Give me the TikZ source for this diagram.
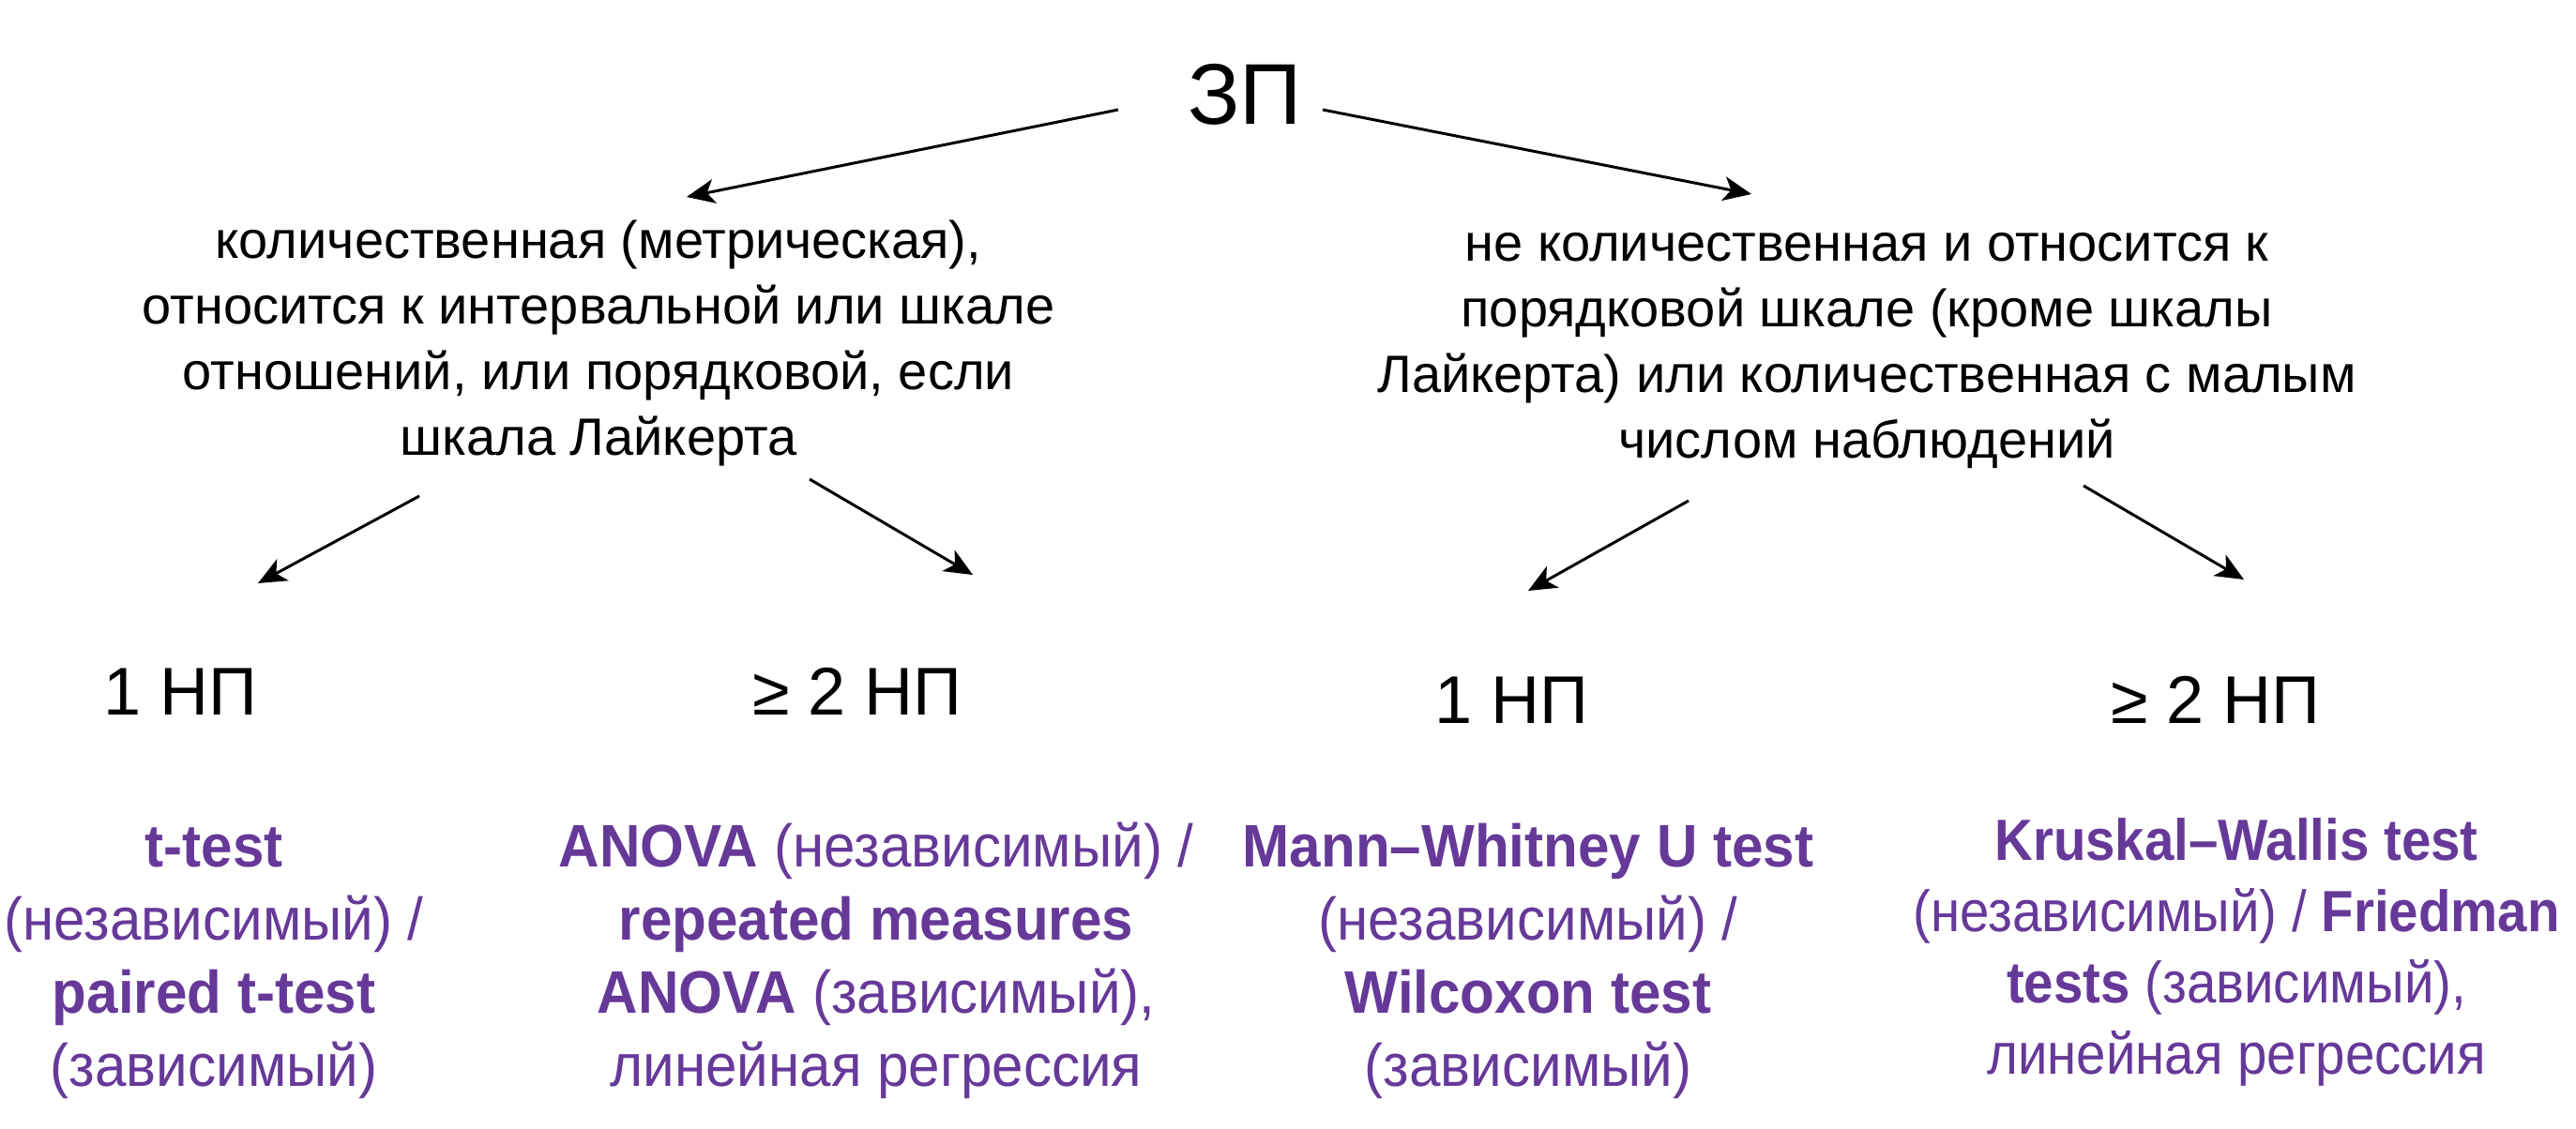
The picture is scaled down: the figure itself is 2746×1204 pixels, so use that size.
\documentclass[tikz,border=0pt]{standalone}
\usepackage{fontspec}
\setmainfont{Liberation Sans}
\newfontfamily\purpfont{Liberation Sans}[FakeStretch=0.94]
\newfontfamily\purpfontn{Liberation Sans}[FakeStretch=0.91]
\usetikzlibrary{arrows.meta}
\definecolor{purp}{RGB}{102,57,153}
\begin{document}
\begin{tikzpicture}[x=0.5pt,y=-0.5pt,
  every node/.style={inner sep=0pt, outer sep=0pt},
  title/.style={font=\fontsize{46}{52}\selectfont, anchor=base},
  crit/.style={font=\fontsize{28}{35}\selectfont, align=center, anchor=base},
  np/.style={font=\fontsize{36}{40}\selectfont, anchor=base},
  test/.style={font=\purpfont\fontsize{32}{39}\selectfont, text=purp, align=center, anchor=base},
  testn/.style={font=\purpfontn\fontsize{31}{38}\selectfont, text=purp, align=center, anchor=base},
  arr/.style={-{Stealth[length=15pt,width=13pt,inset=4pt]}, line width=1.5pt}]
\useasboundingbox (0,0) rectangle (2746,1204);

\node[title] (zp) at (1327,133) {ЗП};
\node[crit] (quant) at (638,485) {количественная (метрическая),\\ относится к интервальной или шкале\\ отношений, или порядковой, если\\ шкала Лайкерта};
\node[crit] (nonq) at (1990,488) {не количественная и относится к\\ порядковой шкале (кроме шкалы\\ Лайкерта) или количественная с малым\\ числом наблюдений};

\node[np] (np1) at (192,762) {1 НП};
\node[np] (np2) at (914,762) {≥ 2 НП};
\node[np] (np3) at (1611,771) {1 НП};
\node[np] (np4) at (2362,771) {≥ 2 НП};

\node[test] (t1) at (228,1158) {\textbf{t-test}\\ (независимый) /\\ \textbf{paired t-test}\\ (зависимый)};
\node[test] (t2) at (934,1158) {\textbf{ANOVA} (независимый) /\\ \textbf{repeated measures}\\ \textbf{ANOVA} (зависимый),\\ линейная регрессия};
\node[test] (t3) at (1629,1158) {\textbf{Mann–Whitney U test}\\ (независимый) /\\ \textbf{Wilcoxon test}\\ (зависимый)};
\node[testn] (t4) at (2384,1145) {\textbf{Kruskal–Wallis test}\\ (независимый) / \textbf{Friedman}\\ \textbf{tests} (зависимый),\\ линейная регрессия};

\coordinate (zpL) at (1192,117);
\coordinate (zpR) at (1410,117);
\coordinate (quantIn) at (732,210);
\coordinate (nonqIn) at (1867,207);
\coordinate (quantL) at (447,529);
\coordinate (quantR) at (863,511);
\coordinate (nonqL) at (1800,534);
\coordinate (nonqR) at (2221,518);
\coordinate (np1In) at (275,622);
\coordinate (np2In) at (1037,613);
\coordinate (np3In) at (1629,630);
\coordinate (np4In) at (2392,618);

\draw[arr] (zpL) -- (quantIn);
\draw[arr] (zpR) -- (nonqIn);
\draw[arr] (quantL) -- (np1In);
\draw[arr] (quantR) -- (np2In);
\draw[arr] (nonqL) -- (np3In);
\draw[arr] (nonqR) -- (np4In);
\end{tikzpicture}
\end{document}
